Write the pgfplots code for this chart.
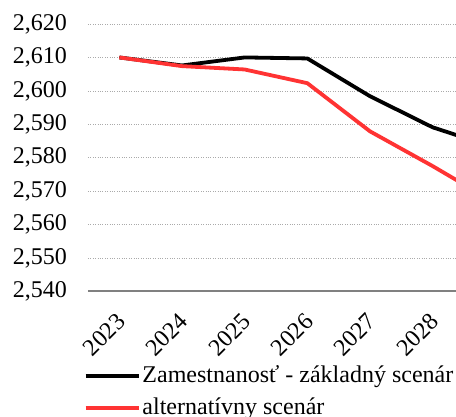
\documentclass[border=0pt]{standalone}
\usepackage{pgfplots}
\pgfplotsset{compat=1.18}
\usepackage{fontspec}
\setmainfont{Liberation Serif}
\definecolor{myred}{RGB}{255,51,51}
\definecolor{axgray}{RGB}{128,128,128}
\definecolor{gridgray}{RGB}{170,170,170}
\begin{document}
\fontsize{24pt}{29pt}\selectfont
\begin{tikzpicture}
\useasboundingbox (-88pt,-125.5pt) rectangle (368pt,291.5pt);
\begin{axis}[
  scale only axis,
  width=376pt, height=267.5pt,
  at={(0,0)}, anchor=south west,
  xmin=-0.5, xmax=5.5,
  ymin=2.54, ymax=2.62,
  ytick={2.54,2.55,2.56,2.57,2.58,2.59,2.60,2.61,2.62},
  xtick={0,1,2,3,4,5},
  xticklabels={2023,2024,2025,2026,2027,2028},
  major tick length=0pt,
  axis x line*=bottom,
  axis y line*=left,
  y axis line style={draw=none},
  x axis line style={draw=axgray, line width=2pt, -},
  ymajorgrids,
  major grid style={draw=gridgray, dotted, line width=0.6pt},
  /pgf/number format/.cd, fixed, fixed zerofill, precision=3, use comma, 1000 sep={}, assume math mode=true,
  /pgfplots/.cd,
  yticklabel style={font=\fontsize{24pt}{29pt}\selectfont, anchor=east, xshift=-13pt},
  xticklabel style={font=\fontsize{24pt}{29pt}\selectfont, rotate=45, anchor=north east, inner sep=1pt, xshift=-16pt, yshift=-10.5pt},
  legend style={at={(axis description cs:-0.012,-0.268)}, anchor=north west, draw=none, fill=none,
    font=\fontsize{24pt}{29pt}\selectfont, row sep=8pt, inner sep=0pt,
    legend cell align=left},
  legend image code/.code={\draw[#1, line width=3.8pt] (0pt,0pt) -- (53pt,0pt);},
  every axis plot/.append style={line width=3.8pt, line join=round},
]
\addplot[black, mark=none] coordinates {
 (0,2.6100) (1,2.6076) (2,2.6100) (3,2.6097) (4,2.5984) (5,2.5891) (6,2.5830)};
\addlegendentry{Zamestnanosť - základný scenár}
\addplot[myred, mark=none] coordinates {
 (0,2.6100) (1,2.6074) (2,2.6064) (3,2.6023) (4,2.5879) (5,2.5775) (6,2.5665)};
\addlegendentry{alternatívny scenár}
\end{axis}
\end{tikzpicture}
\end{document}
